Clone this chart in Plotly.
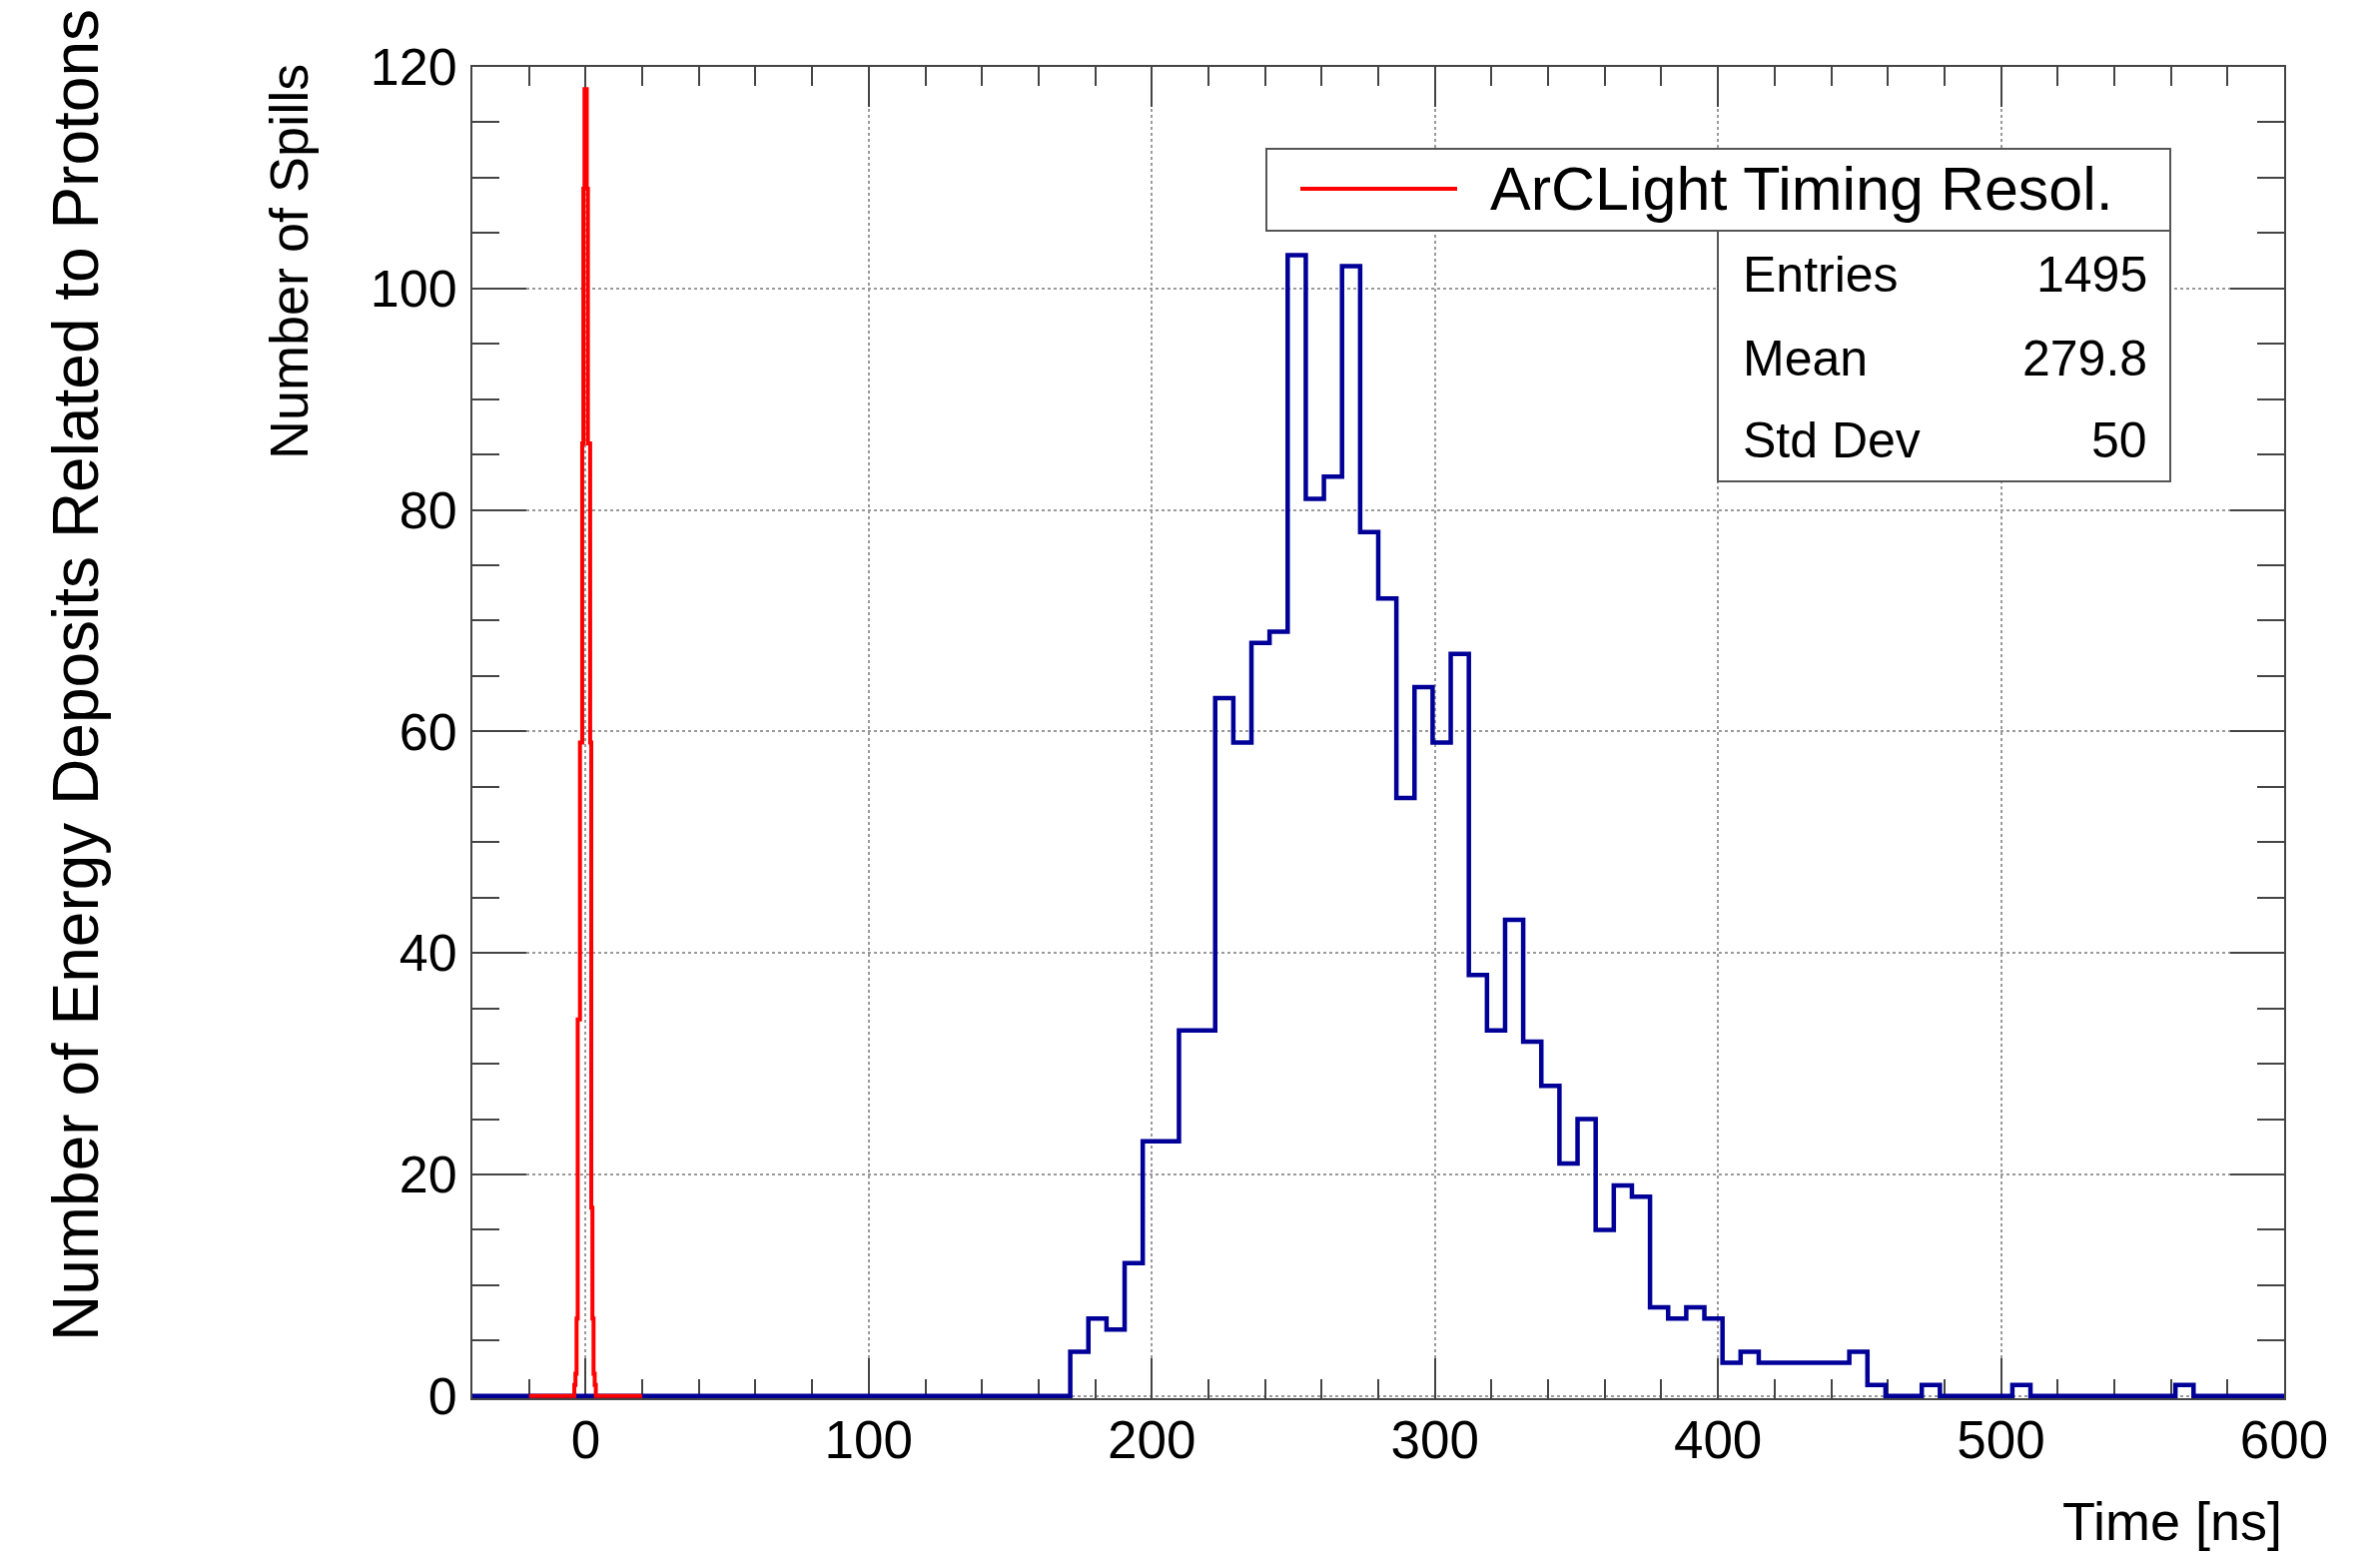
import plotly.graph_objects as go

# ---------------- data ----------------
BLUE_XMIN, BLUE_XMAX = -40.0, 600.0          # histogram range (100 bins of 6.4 ns)
BLUE_COUNTS = [
    0, 0, 0, 0, 0, 0, 0, 0, 0, 0,
    0, 0, 0, 0, 0, 0, 0, 0, 0, 0,
    0, 0, 0, 0, 0, 0, 0, 0, 0, 0,
    0, 0, 0, 4, 7, 6, 12, 23, 23, 33,
    33, 63, 59, 68, 69, 103, 81, 83, 102, 78,
    72, 54, 64, 59, 67, 38, 33, 43, 32, 28,
    21, 25, 15, 19, 18, 8, 7, 8, 7, 3,
    4, 3, 3, 3, 3, 3, 4, 1, 0, 0,
    1, 0, 0, 0, 0, 1, 0, 0, 0, 0,
    0, 0, 0, 0, 1, 0, 0, 0, 0, 0,
]
RED_XMIN, RED_XMAX = -20.0, 20.0             # histogram range (100 bins of 0.4 ns)
RED_COUNTS = [
    0, 0, 0, 0, 0, 0, 0, 0, 0, 0,
    0, 0, 0, 0, 0, 0, 0, 0, 0, 0,
    0, 0, 0, 0, 0, 0, 0, 0, 0, 0,
    0, 0, 0, 0, 0, 0, 0, 0, 0, 0,
    1, 2, 7, 34, 34, 59, 59, 86, 109, 118,
    118, 109, 86, 86, 59, 17, 7, 2, 1, 0,
    0, 0, 0, 0, 0, 0, 0, 0, 0, 0,
    0, 0, 0, 0, 0, 0, 0, 0, 0, 0,
    0, 0, 0, 0, 0, 0, 0, 0, 0, 0,
    0, 0, 0, 0, 0, 0, 0, 0, 0, 0,
]
X_TICKS = [0, 100, 200, 300, 400, 500, 600]
Y_TICKS = [0, 20, 40, 60, 80, 100, 120]
LEGEND_LABEL = "ArCLight Timing Resol."
STATS_NAMES = ["Entries", "Mean", "Std Dev"]
STATS_VALUES = ["1495", "279.8", "50"]
X_TITLE = "Time [ns]"
Y_TITLE = "Number of Spills"
OUTER_TITLE = "Number of Energy Deposits Related to Protons"

FONT = "Liberation Sans, Arial, Helvetica, sans-serif"
BLUE = "#000099"
RED = "#ff0000"
AXC = "#444444"


def step_xy(xmin, xmax, counts):
    n = len(counts)
    w = (xmax - xmin) / n
    xs = [xmin + i * w for i in range(n + 1)]
    ys = list(counts) + [counts[-1]]
    return xs, ys


bx, by = step_xy(BLUE_XMIN, BLUE_XMAX, BLUE_COUNTS)
rx, ry = step_xy(RED_XMIN, RED_XMAX, RED_COUNTS)

fig = go.Figure()
fig.add_trace(go.Scatter(x=bx, y=by, mode="lines", line=dict(shape="hv", color=BLUE, width=4.5),
                         showlegend=False, hoverinfo="skip"))
fig.add_trace(go.Scatter(x=rx, y=ry, mode="lines", line=dict(shape="hv", color=RED, width=4),
                         showlegend=False, hoverinfo="skip"))

# pixel geometry helpers (plot area in page pixels)
L, R, T, B = 473, 2287, 67, 1400


def px(xp):
    return (xp - L) / (R - L)


def py(yp):
    return (B - yp) / (B - T)


axis_common = dict(
    showline=True, linecolor=AXC, linewidth=2, mirror="allticks",
    ticks="inside", tickcolor=AXC, tickwidth=2,
    showgrid=True, gridcolor="#9a9a9a", gridwidth=1.5, griddash="dot",
    zeroline=False, layer="below traces",
)

fig.update_xaxes(
    range=[BLUE_XMIN, BLUE_XMAX], tickmode="array", tickvals=X_TICKS,
    ticklen=40, ticklabelstandoff=-6,
    tickfont=dict(family=FONT, size=53, color="black"),
    minor=dict(dtick=20, tick0=0, ticks="inside", ticklen=19, tickcolor=AXC, tickwidth=2, showgrid=False),
    **axis_common,
)
fig.update_yaxes(
    range=[-0.2, 120], tickmode="array", tickvals=Y_TICKS,
    ticklen=54, ticklabelstandoff=3,
    tickfont=dict(family=FONT, size=52, color="black"),
    minor=dict(dtick=5, tick0=0, ticks="inside", ticklen=27, tickcolor=AXC, tickwidth=2, showgrid=False),
    **axis_common,
)

shapes = [
    # legend box
    dict(type="rect", xref="paper", yref="paper", x0=px(1268), x1=px(2173), y0=py(231), y1=py(149),
         line=dict(color="#555555", width=2), fillcolor="white", layer="above"),
    # stats box
    dict(type="rect", xref="paper", yref="paper", x0=px(1720), x1=px(2173), y0=py(482), y1=py(231),
         line=dict(color="#555555", width=2), fillcolor="white", layer="above"),
    # legend sample line
    dict(type="line", xref="paper", yref="paper", x0=px(1302), x1=px(1459), y0=py(189), y1=py(189),
         line=dict(color=RED, width=4), layer="above"),
]

annotations = [
    dict(text=LEGEND_LABEL, xref="paper", yref="paper", x=px(1490), y=py(189), xanchor="left",
         yanchor="middle", showarrow=False, font=dict(family=FONT, size=61, color="black")),
    dict(text=X_TITLE, xref="paper", yref="paper", x=1.0, y=py(1523), xanchor="right",
         yanchor="middle", showarrow=False, font=dict(family=FONT, size=54, color="black")),
    dict(text=Y_TITLE, xref="paper", yref="paper", x=px(289), y=py(62), xanchor="center",
         yanchor="top", textangle=-90, showarrow=False, font=dict(family=FONT, size=54, color="black")),
    dict(text=OUTER_TITLE, xref="paper", yref="paper", x=px(76), y=py(676), xanchor="center",
         yanchor="middle", textangle=-90, showarrow=False, font=dict(family=FONT, size=64, color="black")),
]
row_y = [275, 359, 441]
for name, val, yy in zip(STATS_NAMES, STATS_VALUES, row_y):
    annotations.append(dict(text=name, xref="paper", yref="paper", x=px(1743), y=py(yy), xanchor="left",
                            yanchor="middle", showarrow=False, font=dict(family=FONT, size=50, color="black")))
    annotations.append(dict(text=val, xref="paper", yref="paper", x=px(2152), y=py(yy), xanchor="right",
                            yanchor="middle", showarrow=False, font=dict(family=FONT, size=50, color="black")))

fig.update_layout(
    width=2383, height=1556,
    margin=dict(l=L, r=2383 - R, t=T, b=1556 - B, pad=0),
    paper_bgcolor="white", plot_bgcolor="white",
    shapes=shapes, annotations=annotations,
    showlegend=False, hovermode=False,
    font=dict(family=FONT, color="black"),
)

fig.write_html(
    "out.html",
    config={"displayModeBar": False},
    post_script="document.body.style.margin='0';document.body.style.overflow='hidden';",
)
